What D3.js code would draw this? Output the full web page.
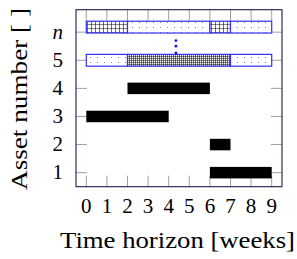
<!DOCTYPE html>
<html>
<head>
<meta charset="utf-8">
<script src="https://cdn.jsdelivr.net/npm/d3@7"></script>
<style>
    body { margin: 0; background: #fff; }
    svg { display: block; }
</style>
</head>
<body>
<svg id="chart" width="297" height="259"></svg>
<script>
// rows of the chart (n is drawn as the 6th row)
const assetLevels = [1, 2, 3, 4, 5, 6];
const assetLabels = ["1", "2", "3", "4", "5", "n"];
const weekTicks = [0, 1, 2, 3, 4, 5, 6, 7, 8, 9];

// planned maintenance for assets 1..4 (solid bars)
const fixedAsset = [1, 2, 3, 4];
const fixedStart = [6, 6, 0, 2];
const fixedEnd = [9, 7, 4, 6];

// asset 5 and asset n: segments with a fill pattern
const asset5Start = [0, 2, 7];
const asset5End = [2, 7, 9];
const asset5Fill = ["dots", "gridFine", "dots"];

const assetNStart = [0, 2, 6, 7];
const assetNEnd = [2, 6, 7, 9];
const assetNFill = ["grid", "dots", "grid", "dots"];
const assetNLevel = 6.18;

// the vertical dots between 5 and n
const dotsX = [4.35, 4.35, 4.35];
const dotsY = [5.7, 5.5, 5.26];

const serif = "'Liberation Serif', 'Times New Roman', Tinos, 'Nimbus Roman', Times, serif";

const svg = d3.select("#chart");

const x = d3.scaleLinear().domain([-0.5, 9.5]).range([76, 282]);
const y = d3.scaleLinear().domain([0.5, 6.8]).range([186.7, 9.7]);

const defs = svg.append("defs");

// dotted fill
const pDots = defs.append("pattern")
    .attr("id", "dots").attr("patternUnits", "userSpaceOnUse")
    .attr("width", 7).attr("height", 5).attr("x", 88).attr("y", 1);
pDots.append("rect").attr("width", 7).attr("height", 5).attr("fill", "#fff");
pDots.append("rect").attr("x", 2).attr("y", 1).attr("width", 1).attr("height", 1).attr("fill", "#888");

// grids
function gridPattern(id, step) {
    const p = defs.append("pattern")
        .attr("id", id).attr("patternUnits", "userSpaceOnUse")
        .attr("width", step).attr("height", step).attr("x", 87).attr("y", 0);
    p.append("rect").attr("width", step).attr("height", step).attr("fill", "#fff");
    p.append("path")
        .attr("d", `M0,0H${step}M0,0V${step}`)
        .attr("stroke", "#111").attr("stroke-width", 1.2).attr("fill", "none");
}
gridPattern("grid", 4);
gridPattern("gridFine", 2);

const frame = { l: 76, r: 282, t: 9.7, b: 186.7 };
const tickLen = 11;
const tickColor = "#a0a0a0";

// ticks (inside the frame, both sides)
const ticks = svg.append("g").attr("stroke", tickColor).attr("stroke-width", 1);
ticks.selectAll("line.xb").data(weekTicks).join("line")
    .attr("x1", d => x(d)).attr("x2", d => x(d))
    .attr("y1", frame.b).attr("y2", frame.b - tickLen);
ticks.selectAll("line.xt").data(weekTicks).join("line")
    .attr("x1", d => x(d)).attr("x2", d => x(d))
    .attr("y1", frame.t).attr("y2", frame.t + tickLen);
ticks.selectAll("line.yl").data(assetLevels).join("line")
    .attr("x1", frame.l).attr("x2", frame.l + tickLen)
    .attr("y1", d => y(d)).attr("y2", d => y(d));
ticks.selectAll("line.yr").data(assetLevels).join("line")
    .attr("x1", frame.r).attr("x2", frame.r - tickLen)
    .attr("y1", d => y(d)).attr("y2", d => y(d));

// solid bars
const barH = 0.41;
svg.append("g").selectAll("rect").data(fixedAsset).join("rect")
    .attr("x", (d, i) => x(fixedStart[i]))
    .attr("width", (d, i) => x(fixedEnd[i]) - x(fixedStart[i]))
    .attr("y", d => y(d + barH / 2))
    .attr("height", y(0) - y(barH))
    .attr("fill", "#000");

// pattern bars
const patH = 0.42;
function patternRow(level, starts, ends, fills) {
    svg.append("g").selectAll("rect").data(starts).join("rect")
        .attr("x", (d, i) => x(d))
        .attr("width", (d, i) => x(ends[i]) - x(d))
        .attr("y", y(level + patH / 2))
        .attr("height", y(0) - y(patH))
        .attr("fill", (d, i) => `url(#${fills[i]})`)
        .attr("stroke", "#3030ff")
        .attr("stroke-width", 1.2);
}
patternRow(5, asset5Start, asset5End, asset5Fill);
patternRow(assetNLevel, assetNStart, assetNEnd, assetNFill);

svg.append("g").selectAll("circle").data(dotsX).join("circle")
    .attr("cx", d => x(d))
    .attr("cy", (d, i) => y(dotsY[i]))
    .attr("r", 1.4)
    .attr("fill", "#1010ff");

// frame
svg.append("rect")
    .attr("x", frame.l).attr("y", frame.t)
    .attr("width", frame.r - frame.l).attr("height", frame.b - frame.t)
    .attr("fill", "none").attr("stroke", "#1c1c50").attr("stroke-width", 1.1);

// tick labels
svg.append("g").selectAll("text").data(weekTicks).join("text")
    .attr("x", d => x(d)).attr("y", 213.3)
    .attr("text-anchor", "middle")
    .attr("font-family", serif)
    .attr("font-size", 21)
    .text(d => d);

svg.append("g").selectAll("text").data(assetLevels).join("text")
    .attr("x", 63).attr("y", d => y(d) + 6.6)
    .attr("text-anchor", "end")
    .attr("font-family", serif)
    .attr("font-size", 21)
    .attr("font-style", (d, i) => assetLabels[i] === "n" ? "italic" : "normal")
    .text((d, i) => assetLabels[i]);

// axis titles
svg.append("text")
    .attr("x", 177.5).attr("y", 248.3)
    .attr("text-anchor", "middle")
    .attr("font-family", serif)
    .attr("font-size", 24)
    .attr("textLength", 235).attr("lengthAdjust", "spacingAndGlyphs")
    .text("Time horizon [weeks]");

svg.append("text")
    .attr("transform", "translate(27,99) rotate(-90)")
    .attr("text-anchor", "middle")
    .attr("font-family", serif)
    .attr("font-size", 24)
    .attr("textLength", 182).attr("lengthAdjust", "spacingAndGlyphs")
    .text("Asset number [ ]");
</script>
</body>
</html>
